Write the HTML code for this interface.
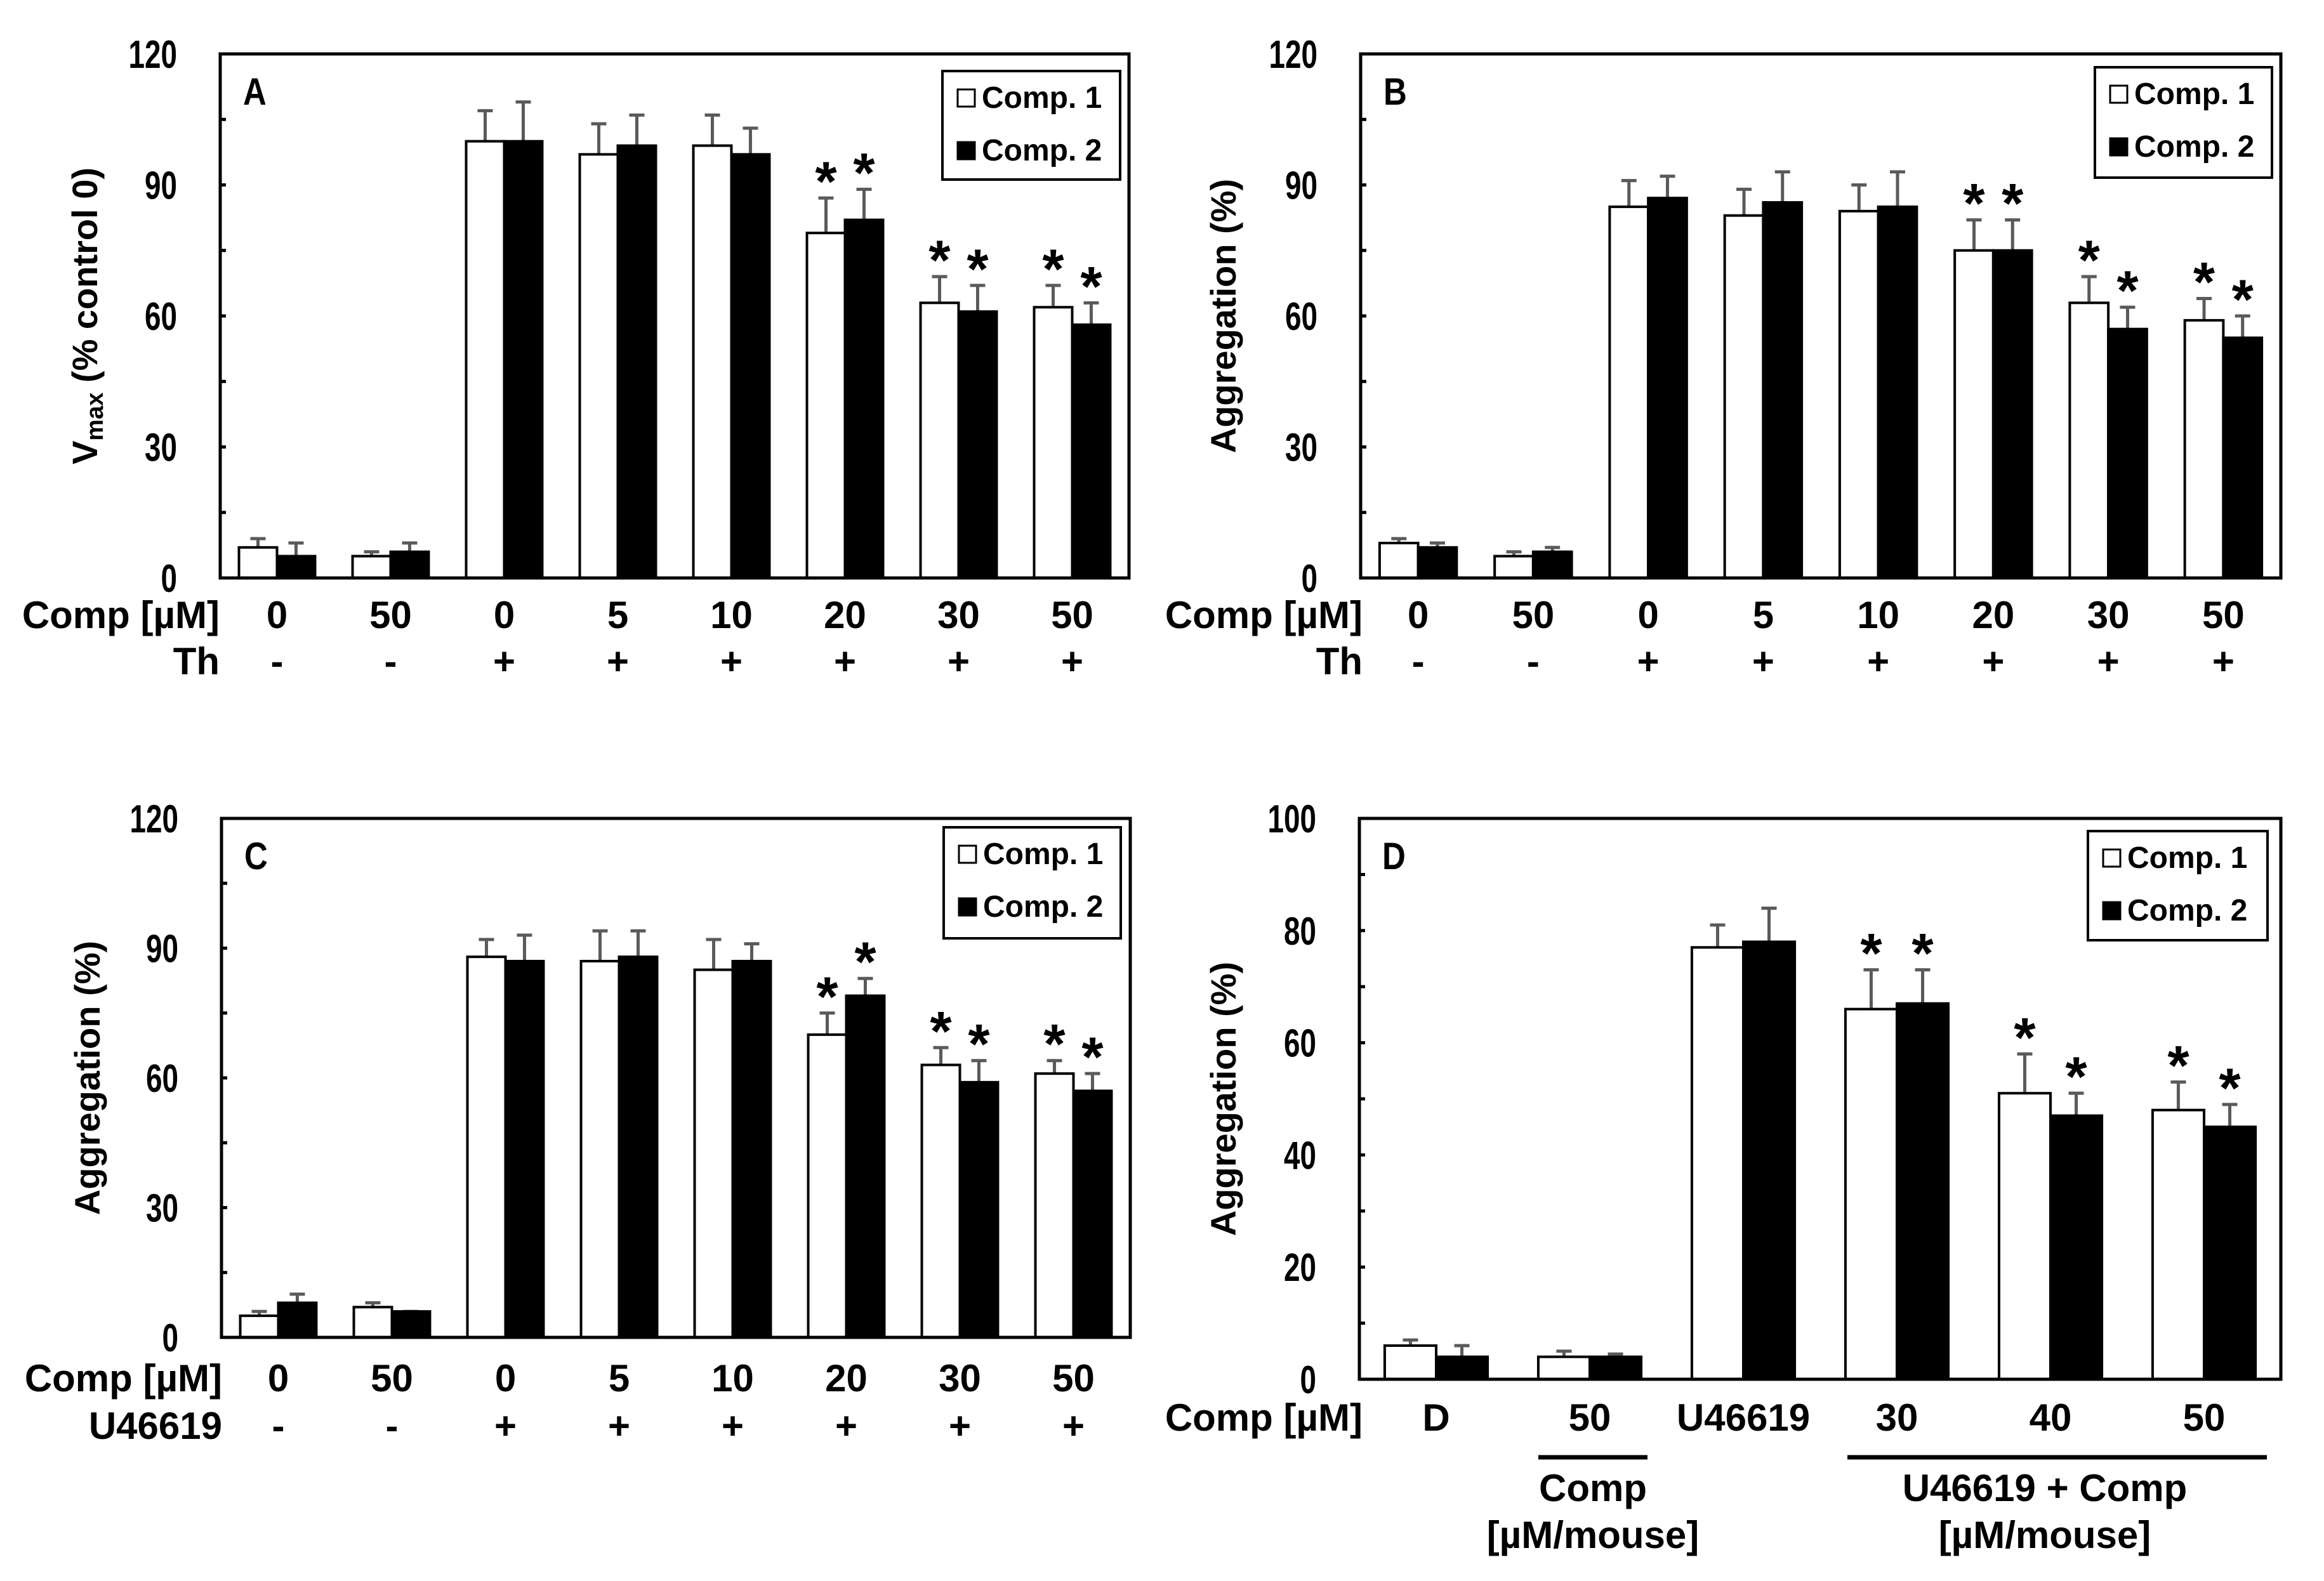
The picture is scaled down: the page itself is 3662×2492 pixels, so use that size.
<!DOCTYPE html>
<html><head><meta charset="utf-8"><style>
html,body{margin:0;padding:0;background:#fff;}
svg{display:block;font-family:"Liberation Sans",Arial,sans-serif;font-weight:bold;}
</style></head><body>
<svg id="fig" width="3662" height="2492" viewBox="0 0 3662 2492" xmlns="http://www.w3.org/2000/svg"></svg>
<script>
// ---- Data ----
const catsA = ["0","50","0","5","10","20","30","50"];
const rowA2 = ["-","-","+","+","+","+","+","+"];
const aComp1 = [7,5,100,97,99,79,63,62];
const aComp1Err = [9,6,107,104,106,87,69,67];
const aComp2 = [5,6,100,99,97,82,61,58];
const aComp2Err = [8,8,109,106,103,89,67,63];
const aStars = [5,6,7];

const catsB = ["0","50","0","5","10","20","30","50"];
const rowB2 = ["-","-","+","+","+","+","+","+"];
const bComp1 = [8,5,85,83,84,75,63,59];
const bComp1Err = [9,6,91,89,90,82,69,64];
const bComp2 = [7,6,87,86,85,75,57,55];
const bComp2Err = [8,7,92,93,93,82,62,60];
const bStars = [5,6,7];

const catsC = ["0","50","0","5","10","20","30","50"];
const rowC2 = ["-","-","+","+","+","+","+","+"];
const cComp1 = [5,7,88,87,85,70,63,61];
const cComp1Err = [6,8,92,94,92,75,67,64];
const cComp2 = [8,6,87,88,87,79,59,57];
const cComp2Err = [10,6,93,94,91,83,64,61];
const cStars = [5,6,7];

const catsD = ["D","50","U46619","30","40","50"];
const dComp1 = [6,4,77,66,51,48];
const dComp1Err = [7,5,81,73,58,53];
const dComp2 = [4,4,78,67,47,45];
const dComp2Err = [6,4.5,84,73,51,49];
const dStars = [3,4,5];

const ticksA = [0,30,60,90,120];
const ticksD = [0,20,40,60,80,100];

const NS = "http://www.w3.org/2000/svg";
const svg = document.getElementById('fig');
function mk(tag, attrs, parent, text){
  const e = document.createElementNS(NS, tag);
  for (const k in attrs) e.setAttribute(k, attrs[k]);
  if (text !== undefined) e.textContent = text;
  (parent||svg).appendChild(e);
  return e;
}

function panel(cfg){
  const g = mk('g', {});
  
  
  const {L,R,T,B,max} = cfg;
  const y = v => B - v*(B-T)/max;
  const n = cfg.cats.length;
  const gw = (R-L)/n;
  const cx = i => L + gw*(i+0.5);
  const bw = gw*0.335;

  for (let v = cfg.minor; v < max; v += cfg.minor){
    const t = mk('line', {x1:L, x2:L+9, y1:y(v), y2:y(v), stroke:'#000','stroke-width':5}, g);
    
    
  }
  cfg.ticks.forEach(v=>{
    const t = mk('text', {x:0, y:0, 'text-anchor':'end','font-size':62,
      transform:'translate('+(L-68)+','+(y(v)+22)+') scale(0.74,1)'}, g, String(v));
    
    
  });
  const series = [[cfg.s1, cfg.e1, '#fff', -1], [cfg.s2, cfg.e2, '#000', 0]];
  series.forEach(([vals, errs, fill, off], si)=>{
    vals.forEach((v,i)=>{
      const x0 = cx(i) + off*bw;
      const er = mk('line', {x1:x0+bw/2, x2:x0+bw/2, y1:y(errs[i]), y2:y(v), stroke:'#5a5a5a','stroke-width':5}, g);
      
      
      const cap = mk('line', {x1:x0+bw/2-12, x2:x0+bw/2+12, y1:y(errs[i]), y2:y(errs[i]), stroke:'#5a5a5a','stroke-width':5}, g);
      
      
      const r = mk('rect', {x:x0, y:y(v), width:bw, height:B-y(v), fill:fill, stroke:'#000','stroke-width':4}, g);
      
      
    });
  });
  cfg.stars.forEach(i=>{
    [[cfg.e1,-1],[cfg.e2,0]].forEach(([errs,off],si)=>{
      const s = mk('text', {x:cx(i)+off*bw+bw/2, y:y(errs[i])+4, 'text-anchor':'middle','font-size':88}, g, '*');
      
      
    });
  });
  const fr = mk('rect', {x:L, y:T, width:R-L, height:B-T, fill:'none', stroke:'#000','stroke-width':5}, g);
  
  
  const pl = mk('text', {x:0, y:0, 'font-size':60, transform:'translate('+(L+36)+','+(T+80)+') scale(0.85,1)'}, g, cfg.id);
  
  
  const lg = mk('g', {}, g);
  
  
  const [lx0,ly0,lx1,ly1] = cfg.leg;
  mk('rect', {x:lx0, y:ly0, width:lx1-lx0, height:ly1-ly0, fill:'#fff', stroke:'#000','stroke-width':4}, lg);
  [['Comp. 1','#fff',58],['Comp. 2','#000',141]].forEach(([lab,fill,dy],k)=>{
    const sw = mk('rect', {x:lx0+24, y:ly0+dy-29, width:27, height:27, fill:fill, stroke:'#000','stroke-width':3}, lg);
    
    
    const lt = mk('text', {x:lx0+62, y:ly0+dy, 'font-size':48}, lg, lab);
    
    
  });
  const yt = mk('text', {x:cfg.ytx, y:(T+B)/2, 'text-anchor':'middle','font-size':56,
    transform:'rotate(-90 '+cfg.ytx+' '+((T+B)/2)+')', 'dominant-baseline':'middle'}, g);
  
  
  if (cfg.vmax){
    mk('tspan', {}, yt, 'V');
    mk('tspan', {'font-size':38, dy:14}, yt, 'max');
    mk('tspan', {dy:-14}, yt, ' (% control 0)');
  } else yt.textContent = 'Aggregation (%)';
  const rt = mk('text', {x:cfg.rowX, y:cfg.row1, 'text-anchor':'end','font-size':60}, g, 'Comp [\u00b5M]');
  
  
  cfg.cats.forEach((c,i)=>{
    const t = mk('text', {x:cx(i), y:cfg.row1, 'text-anchor':'middle','font-size':60}, g, c);
    
    
  });
  if (cfg.row2){
    const r2 = mk('text', {x:cfg.rowX, y:cfg.row2y, 'text-anchor':'end','font-size':60}, g, cfg.row2title);
    
    
    cfg.row2.forEach((c,i)=>{
      const t = mk('text', {x:cx(i), y:cfg.row2y, 'text-anchor':'middle','font-size':60}, g, c);
      
      
    });
  }
  return {cx, g};
}

panel({id:'A', L:347, R:1779, T:85, B:911, max:120, minor:15, ticks:ticksA,
  cats:catsA, s1:aComp1, e1:aComp1Err, s2:aComp2, e2:aComp2Err, stars:aStars,
  leg:[1485,112,1765,283], ytx:138, vmax:true, rowX:346, row1:990, row2:rowA2, row2y:1063, row2title:'Th'});
panel({id:'B', L:2144, R:3594, T:85, B:911, max:120, minor:15, ticks:ticksA,
  cats:catsB, s1:bComp1, e1:bComp1Err, s2:bComp2, e2:bComp2Err, stars:bStars,
  leg:[3301,106,3580,280], ytx:1932, rowX:2147, row1:990, row2:rowB2, row2y:1063, row2title:'Th'});
panel({id:'C', L:349, R:1781, T:1290, B:2108, max:120, minor:15, ticks:ticksA,
  cats:catsC, s1:cComp1, e1:cComp1Err, s2:cComp2, e2:cComp2Err, stars:cStars,
  leg:[1487,1304,1766,1479], ytx:142, rowX:350, row1:2193, row2:rowC2, row2y:2268, row2title:'U46619'});
panel({id:'D', L:2142, R:3594, T:1290, B:2174, max:100, minor:10, ticks:ticksD,
  cats:catsD, s1:dComp1, e1:dComp1Err, s2:dComp2, e2:dComp2Err, stars:dStars,
  leg:[3290,1310,3573,1482], ytx:1932, rowX:2147, row1:2255});

const l1 = mk('line', {x1:2424, x2:2596, y1:2297, y2:2297, stroke:'#000','stroke-width':7});


const l2 = mk('line', {x1:2911, x2:3572, y1:2297, y2:2297, stroke:'#000','stroke-width':7});


[['Comp',2510,2366],['[\u00b5M/mouse]',2510,2440],['U46619 + Comp',3222,2366],['[\u00b5M/mouse]',3222,2440]].forEach(([t,x,yy])=>{
  const e = mk('text', {x:x, y:yy, 'text-anchor':'middle','font-size':60}, svg, t);
  
  
});
</script>
</body></html>
